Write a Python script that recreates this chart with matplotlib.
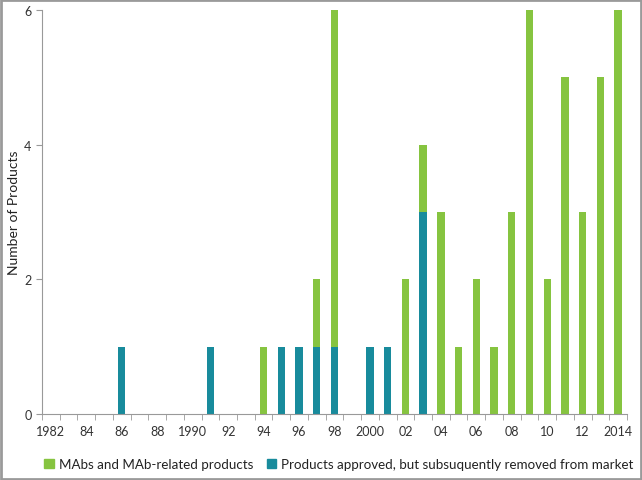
import matplotlib
matplotlib.use("Agg")
import matplotlib.pyplot as plt
from matplotlib.patches import Rectangle
import numpy as np

years = list(range(1982, 2015))
tick_labels = ["1982", "84", "86", "88", "1990", "92", "94", "96", "98",
               "2000", "02", "04", "06", "08", "10", "12", "2014"]
removed = {1986: 1, 1991: 1, 1995: 1, 1996: 1, 1997: 1, 1998: 1,
           2000: 1, 2001: 1, 2003: 3}
mabs = {1994: 1, 1997: 1, 1998: 5, 2002: 2, 2003: 1, 2004: 3, 2005: 1,
        2006: 2, 2007: 1, 2008: 3, 2009: 6, 2010: 2, 2011: 5, 2012: 3,
        2013: 5, 2014: 6}
removed_vals = [removed.get(y, 0) for y in years]
mabs_vals = [mabs.get(y, 0) for y in years]

green = "#86C440"
teal = "#188B9C"
plt.rcParams['font.family'] = ['Lato', 'DejaVu Sans']

fig = plt.figure(figsize=(6.42, 4.81), dpi=100)
ax = fig.add_axes([42/642, 66/481, 585/642, 404/481])
x = np.arange(len(years))
w = 0.42
ax.bar(x, removed_vals, width=w, color=teal, label="Products approved, but subsuquently removed from market")
ax.bar(x, mabs_vals, width=w, bottom=removed_vals, color=green, label="MAbs and MAb-related products")

ax.set_xlim(-0.5, len(years) - 0.5)
ax.set_ylim(0, 6)
ax.set_yticks([0, 2, 4, 6])
ax.set_xticks(x[::2])
ax.set_xticklabels(tick_labels)
ax.set_xticks(np.arange(-0.5, len(years), 1), minor=True)
ax.tick_params(axis='x', which='major', length=0, pad=8, labelsize=9, colors="#333333")
ax.tick_params(axis='x', which='minor', length=4, color="#999999")
ax.tick_params(axis='y', length=4, color="#999999", labelsize=9, labelcolor="#333333")
for s in ["top", "right"]:
    ax.spines[s].set_visible(False)
ax.spines["left"].set_color("#999999")
ax.spines["bottom"].set_color("#999999")
ax.set_ylabel("Number of Products", fontsize=10, color="#222222", va="center")
ax.yaxis.set_label_coords(-28/585, 0.5)

handles = [Rectangle((0, 0), 1, 1, color=green), Rectangle((0, 0), 1, 1, color=teal)]
labels = ["MAbs and MAb-related products", "Products approved, but subsuquently removed from market"]
fig.legend(handles, labels, loc="center", bbox_to_anchor=(339/642, 16/481), ncol=2, frameon=False,
           fontsize=9.6, handlelength=0.7, handleheight=0.7, handletextpad=0.4, columnspacing=1.0,
           labelcolor="#222222", borderaxespad=0, borderpad=0)

border = Rectangle((0.0015, 0.002), 0.997, 0.996, transform=fig.transFigure, fill=False,
                   edgecolor="#9a9a9a", linewidth=2)
fig.patches.append(border)

fig.savefig("out.png", dpi=100)
